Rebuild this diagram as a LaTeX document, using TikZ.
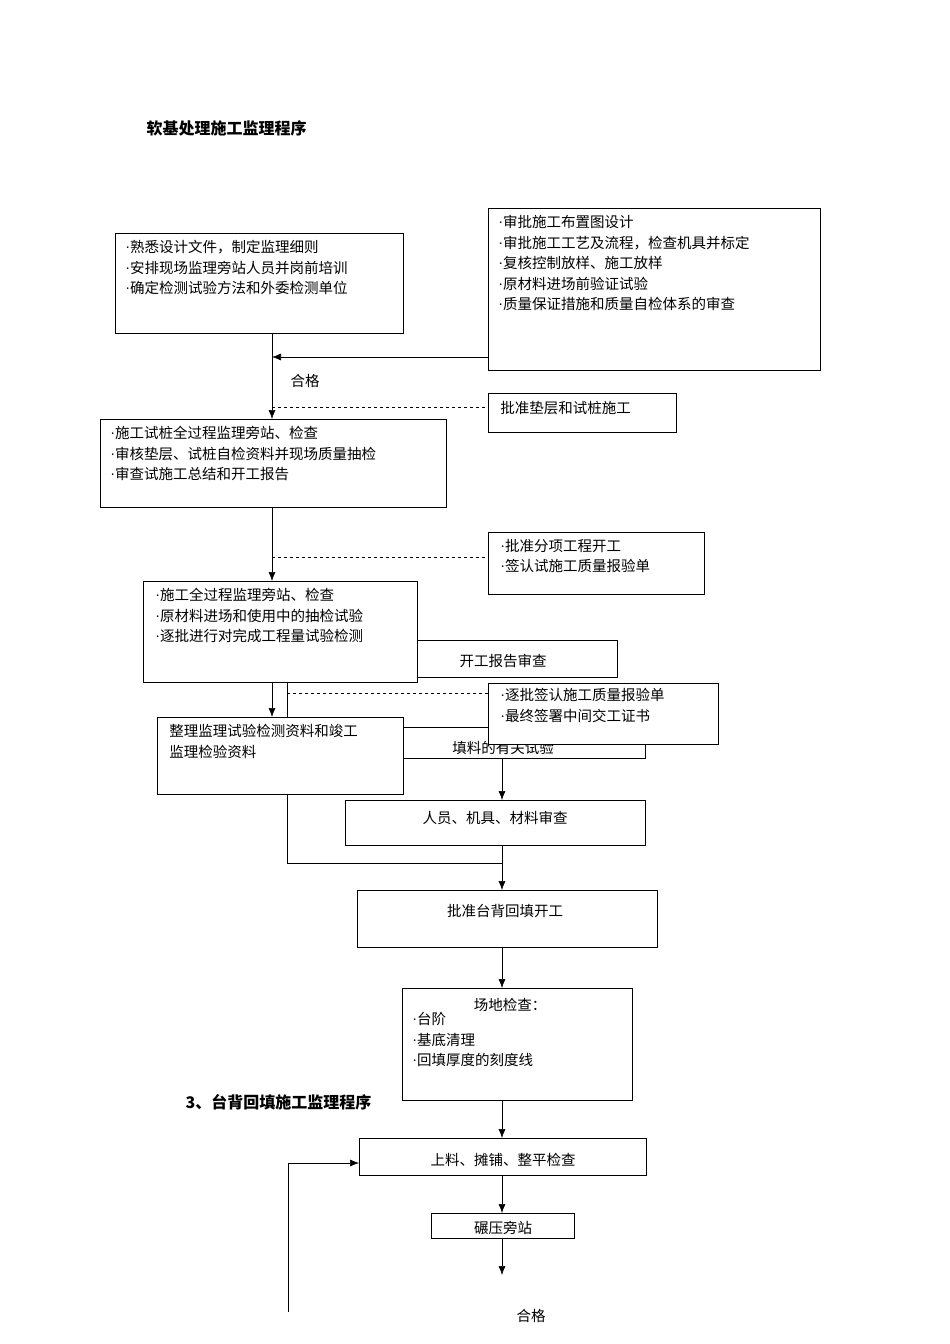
\documentclass[tikz,border=0pt]{standalone}
\usepackage{fontspec}
\setmainfont{Noto Sans CJK SC}
\newfontfamily\latinf{Liberation Serif}
\newcommand\bul{{\latinf ·}}
\usetikzlibrary{arrows,arrows.meta,positioning}
\begin{document}
\begin{tikzpicture}[x=1pt,y=-1pt,->,>={Latex[length=9pt,width=7pt]},semithick,
  font=\fontsize{14.5}{20.5}\selectfont]
  \tikzstyle{box}=[draw,fill=white,-]
  \tikzstyle{txt}=[anchor=north west,inner sep=0pt,align=left]
  \tikzstyle{mid}=[inner sep=0pt]
  \useasboundingbox (0,0) rectangle (950,1344);

  \node[anchor=west,font=\fontsize{16}{18}\selectfont\bfseries] (title) at (143,128) {软基处理施工监理程序};

  % top boxes
  \draw[box] (115,233) rectangle (403,333);
  \node[txt] (prep) at (125,240) {\bul 熟悉设计文件，制定监理细则\\\bul 安排现场监理旁站人员并岗前培训\\\bul 确定检测试验方法和外委检测单位};
  \draw[box] (488,208) rectangle (820,370);
  \node[txt] (check) at (498,215) {\bul 审批施工布置图设计\\\bul 审批施工工艺及流程，检查机具并标定\\\bul 复核控制放样、施工放样\\\bul 原材料进场前验证试验\\\bul 质量保证措施和质量自检体系的审查};
  \coordinate (c1) at (488,357);
  \coordinate (c2) at (272,357);
  \draw (c1) -- (c2);
  \coordinate (p1) at (272,333);
  \coordinate (p2) at (272,419);
  \draw (p1) -- (p2);
  \node (ok1) at (305,381) {合格};
  \coordinate (d1) at (272,407);
  \coordinate (d2) at (488,407);
  \draw[-,dashed] (d1) -- (d2);
  \draw[box] (488,393) rectangle (676,432);
  \node[txt] (trial) at (500,401) {批准垫层和试桩施工};

  % trial piles
  \draw[box] (100,419) rectangle (446,507);
  \node[txt] (pile) at (110,426) {\bul 施工试桩全过程监理旁站、检查\\\bul 审核垫层、试桩自检资料并现场质量抽检\\\bul 审查试施工总结和开工报告};
  \coordinate (p3) at (272,507);
  \coordinate (p4) at (272,581);
  \draw (p3) -- (p4);
  \coordinate (d3) at (272,557);
  \coordinate (d4) at (488,557);
  \draw[-,dashed] (d3) -- (d4);
  \draw[box] (488,532) rectangle (704,594);
  \node[txt] (start) at (500,539) {\bul 批准分项工程开工\\\bul 签认试施工质量报验单};

  % hidden boxes behind
  \draw[box] (300,640) rectangle (617,677);
  \node[mid] (report) at (503,661) {开工报告审查};
  \draw[box] (300,727) rectangle (645,758);
  \node[mid] (fill) at (503,748) {填料的有关试验};
  \coordinate (q1) at (287,682);
  \coordinate (q2) at (287,863);
  \coordinate (q3) at (502,863);
  \draw[-] (q1) -- (q2) -- (q3);

  % construction
  \draw[box] (143,581) rectangle (417,682);
  \node[txt] (work) at (155,588) {\bul 施工全过程监理旁站、检查\\\bul 原材料进场和使用中的抽检试验\\\bul 逐批进行对完成工程量试验检测};
  \coordinate (p5) at (272,682);
  \coordinate (p6) at (272,717);
  \draw (p5) -- (p6);
  \coordinate (d5) at (287,693);
  \coordinate (d6) at (488,693);
  \draw[-,dashed] (d5) -- (d6);
  \draw[box] (488,683) rectangle (718,744);
  \node[txt] (sign) at (500,688) {\bul 逐批签认施工质量报验单\\\bul 最终签署中间交工证书};
  \draw[box] (157,717) rectangle (403,794);
  \node[txt] (doc) at (169,724) {整理监理试验检测资料和竣工\\监理检验资料};

  % backfill
  \coordinate (f1) at (502,758);
  \coordinate (f2) at (502,800);
  \draw (f1) -- (f2);
  \draw[box] (345,800) rectangle (645,845);
  \node[mid] (staff) at (495,818) {人员、机具、材料审查};
  \coordinate (f3) at (502,845);
  \coordinate (f4) at (502,890);
  \draw (f3) -- (f4);
  \draw[box] (357,890) rectangle (657,947);
  \node[mid] (approve) at (505,911) {批准台背回填开工};
  \coordinate (f5) at (502,947);
  \coordinate (f6) at (502,988);
  \draw (f5) -- (f6);
  \draw[box] (402,988) rectangle (632,1100);
  \node[mid] (site) at (510,1005) {场地检查：};
  \node[txt] (sitel) at (412,1012) {\bul 台阶\\\bul 基底清理\\\bul 回填厚度的刻度线};
  \node[anchor=west,font=\fontsize{16}{18}\selectfont\bfseries] (title2) at (182,1102) {3、台背回填施工监理程序};
  \coordinate (f7) at (502,1100);
  \coordinate (f8) at (502,1138);
  \draw (f7) -- (f8);
  \draw[box] (359,1138) rectangle (646,1175);
  \node[mid] (spread) at (503,1160) {上料、摊铺、整平检查};
  \coordinate (b1) at (288,1312);
  \coordinate (b2) at (288,1163);
  \coordinate (b3) at (359,1163);
  \draw (b1) -- (b2) -- (b3);
  \coordinate (f9) at (502,1175);
  \coordinate (f10) at (502,1213);
  \draw (f9) -- (f10);
  \draw[box] (431,1213) rectangle (574,1238);
  \node[mid] (roll) at (503,1228) {碾压旁站};
  \coordinate (f11) at (502,1238);
  \coordinate (f12) at (502,1275);
  \draw (f11) -- (f12);
  \node (ok2) at (531,1316) {合格};
\end{tikzpicture}
\end{document}
